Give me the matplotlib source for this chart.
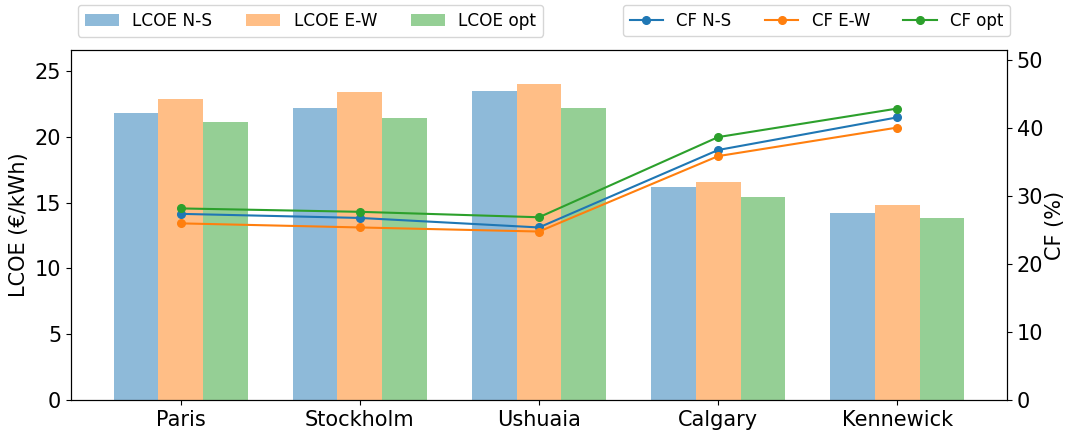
import matplotlib.pyplot as plt
import numpy as np

ciudades = ['Paris', 'Stockholm', 'Ushuaia', 'Calgary', 'Kennewick']

# LCOE en €/kWh
lcoe_ns = [21.8, 22.2, 23.5, 16.2, 14.25]
lcoe_ew = [22.9, 23.4, 24.0, 16.55, 14.85]
lcoe_opt = [21.1, 21.45, 22.2, 15.4, 13.85]

# factor de capacidad en %
cf_ns = [27.4, 26.8, 25.4, 36.8, 41.6]
cf_ew = [26.0, 25.4, 24.8, 35.9, 40.1]
cf_opt = [28.2, 27.7, 26.9, 38.7, 42.9]

x = np.arange(len(ciudades))
w = 0.25

fig = plt.figure(figsize=(10.7, 4.32), dpi=100)
ax = fig.add_axes([0.0664, 0.074, 0.8747, 0.81])
ax2 = ax.twinx()

ax.bar(x - w, lcoe_ns, w, color='tab:blue', alpha=0.5, label='LCOE N-S')
ax.bar(x, lcoe_ew, w, color='tab:orange', alpha=0.5, label='LCOE E-W')
ax.bar(x + w, lcoe_opt, w, color='tab:green', alpha=0.5, label='LCOE opt')

ax2.plot(x, cf_ns, 'o-', color='tab:blue', markersize=5.5, label='CF N-S')
ax2.plot(x, cf_ew, 'o-', color='tab:orange', markersize=5.5, label='CF E-W')
ax2.plot(x, cf_opt, 'o-', color='tab:green', markersize=5.5, label='CF opt')

ax.set_ylim(0, 26.6)
ax2.set_ylim(0, 51.5)
ax.set_xticks(x)
ax.set_xticklabels(ciudades)
ax.tick_params(labelsize=15)
ax2.tick_params(labelsize=15)
ax.set_ylabel('LCOE (€/kWh)', fontsize=15)
ax2.set_ylabel('CF (%)', fontsize=15, labelpad=1)

fig.legend(*ax.get_legend_handles_labels(), loc='upper left', ncol=3,
           bbox_to_anchor=(78 / 1070, 1 - 5 / 432), borderaxespad=0,
           fontsize=12.2)
fig.legend(*ax2.get_legend_handles_labels(), loc='upper right', ncol=3,
           bbox_to_anchor=(1010 / 1070, 1 - 5 / 432), borderaxespad=0,
           fontsize=12)

fig.set_facecolor('white')
fig.savefig('out.png', dpi=100)
